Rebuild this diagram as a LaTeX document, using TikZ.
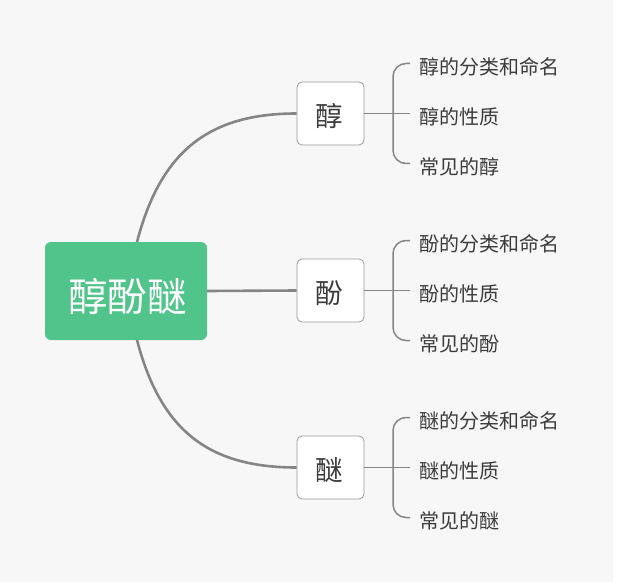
\documentclass[tikz,border=0pt]{standalone}
\usepackage{fontspec}
\setmainfont{Noto Sans CJK SC}
\definecolor{bg}{HTML}{F7F7F7}
\definecolor{rootgreen}{HTML}{50C48A}
\definecolor{linegray}{HTML}{858585}
\definecolor{boxgray}{HTML}{9A9A9A}
\definecolor{txt}{HTML}{3C3C3C}
\begin{document}
\begin{tikzpicture}[x=1pt,y=-1pt,
  rootbox/.style={fill=rootgreen, rounded corners=6pt, minimum width=162pt, minimum height=98pt, inner sep=0pt},
  childbox/.style={draw=boxgray, line width=0.8pt, fill=white, rounded corners=5pt, minimum width=67pt, minimum height=63pt, inner sep=0pt},
  roottext/.style={text=white, font=\fontsize{39.5}{42}\selectfont, inner sep=0pt, anchor=base},
  childtext/.style={text=txt, font=\fontsize{27.5}{30}\selectfont, inner sep=0pt, anchor=base},
  leaftext/.style={text=txt, font=\fontsize{20}{22}\selectfont, inner sep=0pt, anchor=base west},
  mainline/.style={draw=linegray, line width=2.6pt},
  braceline/.style={draw=linegray, line width=1.5pt, rounded corners=13pt}
]
\useasboundingbox (0,0) rectangle (617,585);
\fill[white] (0,0) rectangle (617,585);
\fill[bg] (0,0) rectangle (613,582);

% root
\node[rootbox] (root) at (126,291) {};
\node[roottext] (roott) at (127.5,311) {醇酚醚};

% children
\node[childbox] (c1) at (330.5,113.5) {};
\node[childbox] (c2) at (330.5,290.5) {};
\node[childbox] (c3) at (330.5,467.5) {};
\node[childtext] (c1t) at (329.5,126.5) {醇};
\node[childtext] (c2t) at (329.5,303.5) {酚};
\node[childtext] (c3t) at (329.5,480.5) {醚};

% main connectors
\coordinate (rtop) at (137,242);
\coordinate (rbot) at (137,340);
\draw[mainline] (rtop) .. controls (161,150) and (210,113.5) .. (c1.west);
\draw[mainline] (root.east) -- (c2.west);
\draw[mainline] (rbot) .. controls (161,432) and (210,467.5) .. (c3.west);

% braces and leaves
\foreach \i/\cy/\w in {1/113.5/醇, 2/290.5/酚, 3/467.5/醚} {
  \coordinate (t\i) at (410,\cy-50);
  \coordinate (m\i) at (410,\cy);
  \coordinate (b\i) at (410,\cy+50);
  \draw[braceline] (t\i) -- (393,\cy-50) -- (393,\cy+50) -- (b\i);
  \draw[draw=linegray, line width=1.5pt] (c\i.east) -- (m\i);
  \node[leaftext] (l\i a) at (419,\cy-50+10.6) {\w 的分类和命名};
  \node[leaftext] (l\i b) at (419,\cy+10.6) {\w 的性质};
  \node[leaftext] (l\i c) at (419,\cy+50+10.6) {常见的\w};
}
\end{tikzpicture}
\end{document}
